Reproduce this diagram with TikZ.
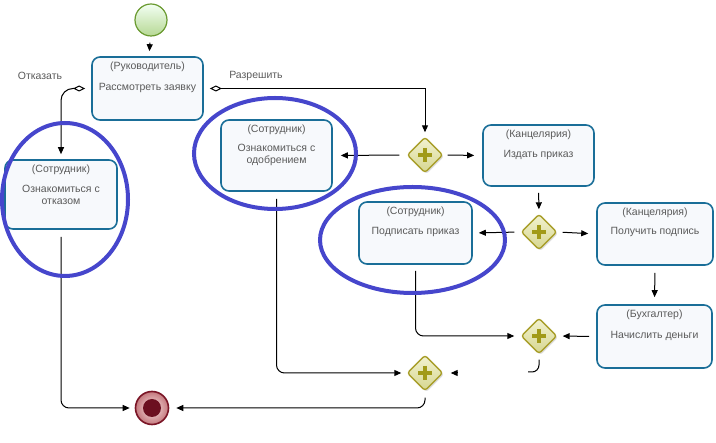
\documentclass[tikz,border=0pt]{standalone}
\usepackage{fontspec}
\setmainfont{Liberation Sans}
\usetikzlibrary{shapes.geometric,arrows.meta,shadows}
\definecolor{taskborder}{HTML}{1A6E98}
\definecolor{taskfill}{HTML}{F7F9FC}
\definecolor{txtgray}{HTML}{5A5A5A}
\definecolor{ellblue}{HTML}{4646CC}
\definecolor{gwborder}{HTML}{A89E2A}
\definecolor{gwplus}{HTML}{A19A18}
\definecolor{gwlight}{HTML}{F2F2D0}
\definecolor{gwdark}{HTML}{D6D690}
\definecolor{startborder}{HTML}{6A9A30}
\definecolor{endborder}{HTML}{7A1526}
\definecolor{endinner}{HTML}{6C1020}
\tikzset{
  task/.style={draw=taskborder, line width=1.6pt, fill=taskfill, rounded corners=8pt, inner sep=0pt},
  tasktext/.style={text=txtgray, font=\fontsize{10.5}{12}\selectfont, inner sep=0pt, align=center},
  gwnode/.style={diamond, draw=gwborder, line width=1.4pt, minimum width=36pt, minimum height=36pt, inner sep=0pt, rounded corners=3pt, top color=gwlight, bottom color=gwdark, drop shadow={shadow xshift=1.5pt, shadow yshift=-1.5pt, opacity=0.25}},
  gwplussign/.style={draw=gwplus, line width=4pt},
  conn/.style={draw=black, line width=1pt, -{Triangle[length=7pt,width=6pt]}},
  opendia/.style={{Diamond[open,length=12pt,width=6pt]}-{Triangle[length=7pt,width=6pt]}},
  hand/.style={draw=ellblue, line width=4pt},
  lbl/.style={text=txtgray, font=\fontsize{10.5}{12}\selectfont, inner sep=0pt}
}
\newcommand\taskbox[8]{%
  \node[task, minimum width=#4pt, minimum height=#5pt] (#1) at (#2,#3) {};
  \node[tasktext] (#1-r) at ([yshift=-11pt]#1.north) {#6};
  \node[tasktext] (#1-t) at ([yshift=-#8pt]#1.north) {#7};
}
\newcommand\gateway[3]{%
  \node[gwnode] (#1) at (#2,#3) {};
  \draw[gwplussign] (#1.center) +(-7,0) -- +(7,0) (#1.center) +(0,-7) -- +(0,7);
}
\begin{document}
\begin{tikzpicture}[x=1pt,y=-1pt]
\useasboundingbox (0,0) rectangle (716,443);
% events
\node[circle, draw=startborder, line width=1.2pt, minimum size=32pt, inner sep=0pt, top color=green!5!white, bottom color={rgb,255:red,182;green,216;blue,148}] (start) at (151,20) {};
\node[circle, draw=endborder, line width=1.6pt, minimum size=33pt, inner sep=0pt, inner color={rgb,255:red,250;green,228;blue,228}, outer color={rgb,255:red,196;green,120;blue,125}] (end) at (152,408) {};
\node[circle, fill=endinner, minimum size=18pt, inner sep=0pt] (endin) at (end.center) {};
% tasks
\taskbox{t1}{147.5}{88.5}{111}{63}{(Руководитель)}{Рассмотреть заявку}{32}
\taskbox{t2}{61}{194.5}{112}{69}{(Сотрудник)}{Ознакомиться с\\отказом}{36}
\taskbox{t3}{276.5}{155.5}{111}{71}{(Сотрудник)}{Ознакомиться с\\одобрением}{36}
\taskbox{t4}{538.5}{155.5}{111}{61}{(Канцелярия)}{Издать приказ}{31}
\taskbox{t5}{415.5}{233}{113}{62}{(Сотрудник)}{Подписать приказ}{31}
\taskbox{t6}{655}{234}{116}{62}{(Канцелярия)}{Получить подпись}{30}
\taskbox{t7}{654.5}{336.5}{115}{63}{(Бухгалтер)}{Начислить деньги}{32}
% gateways
\gateway{g1}{425}{155}
\gateway{g2}{539}{232}
\gateway{g3}{539}{336}
\gateway{g4}{425}{373}
% labels
\node[lbl] (lref) at (40,76) {Отказать};
\node[lbl] (lperm) at (256,76) {Разрешить};
% connectors
\draw[conn, shorten <=6pt, shorten >=5pt] (start) -- (t1);
\draw[conn, opendia, shorten <=6pt, shorten >=5pt, rounded corners=12pt] (t1.west) -| (t2.north);
\draw[conn, opendia, shorten <=6pt, shorten >=4pt] (t1.east) -| (g1.north);
\draw[conn, shorten <=7pt, shorten >=8pt] (g1.west) -- (t3.east);
\draw[conn, shorten <=4pt, shorten >=8pt] (g1.east) -- (t4.west);
\draw[conn, shorten <=6pt, shorten >=4pt] (t4.south) -- (g2.north);
\draw[conn, shorten <=6pt, shorten >=6pt] (g2.west) -- (t5.east);
\draw[conn, shorten <=5pt, shorten >=8pt] (g2.east) -- (t6.west);
\draw[conn, shorten <=7pt, shorten >=7pt] (t6.south) -- (t7.north);
\draw[conn, shorten <=7pt, shorten >=5pt] (t7.west) -- (g3.east);
\draw[conn, shorten <=6pt, shorten >=6pt, rounded corners=8pt] (t5.south) |- (g3.west);
\coordinate (c1) at (528,372);
\coordinate (c2) at (457,373);
\draw[line width=1pt, shorten <=5pt, rounded corners=7pt] (g3.south) |- (c1);
\draw[conn, shorten >=7pt] (c2) -- (g4.east);
\draw[conn, shorten <=7pt, shorten >=5pt, rounded corners=8pt] (t3.south) |- (g4.west);
\draw[conn, shorten <=6pt, shorten >=7pt, rounded corners=8pt] (g4.south) |- (end.east);
\draw[conn, shorten <=7pt, shorten >=5pt, rounded corners=8pt] (t2.south) |- (end.west);
% hand-drawn ellipses
\draw[hand] (65,199.5) ellipse [x radius=63, y radius=76.5];
\draw[hand] (275,153.5) ellipse [x radius=81, y radius=55.5];
\draw[hand] (412.5,240) ellipse [x radius=92.5, y radius=53];
\end{tikzpicture}
\end{document}
